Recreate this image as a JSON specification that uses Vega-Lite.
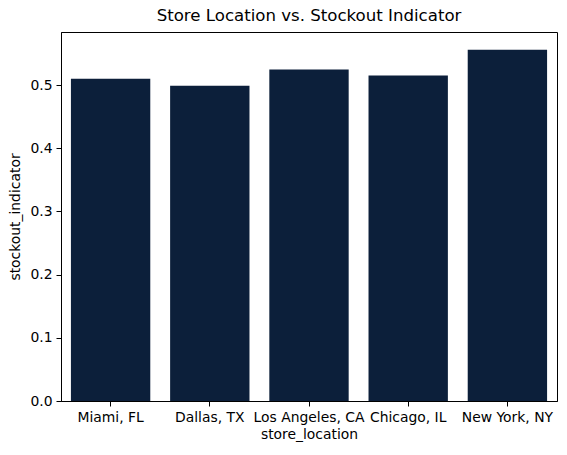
{
  "$schema": "https://vega.github.io/schema/vega-lite/v6.json",
  "autosize": {"type": "none"},
  "width": 496,
  "height": 369,
  "padding": {"left": 61, "top": 32, "right": 10, "bottom": 54},
  "background": "white",
  "title": {
    "text": "Store Location vs. Stockout Indicator",
    "font": "DejaVu Sans",
    "fontSize": 16.6,
    "fontWeight": "normal",
    "color": "black",
    "offset": 7
  },
  "config": {
    "view": {"stroke": "black", "strokeWidth": 1},
    "axis": {
      "labelFont": "DejaVu Sans",
      "titleFont": "DejaVu Sans",
      "labelFontSize": 13.9,
      "titleFontSize": 13.9,
      "titleFontWeight": "normal",
      "labelColor": "black",
      "titleColor": "black",
      "domainColor": "black",
      "tickColor": "black",
      "tickSize": 5,
      "grid": false
    }
  },
  "data": {
    "values": [
      {"store_location": "Miami, FL", "stockout_indicator": 0.510},
      {"store_location": "Dallas, TX", "stockout_indicator": 0.499},
      {"store_location": "Los Angeles, CA", "stockout_indicator": 0.5245},
      {"store_location": "Chicago, IL", "stockout_indicator": 0.515},
      {"store_location": "New York, NY", "stockout_indicator": 0.556}
    ]
  },
  "mark": {"type": "bar", "color": "#0c1f3a"},
  "encoding": {
    "x": {
      "field": "store_location",
      "type": "nominal",
      "sort": null,
      "scale": {"paddingInner": 0.2, "paddingOuter": 0.1},
      "axis": {"labelAngle": 0, "title": "store_location", "titlePadding": 4, "labelPadding": 4}
    },
    "y": {
      "field": "stockout_indicator",
      "type": "quantitative",
      "scale": {"domain": [0, 0.584], "nice": false},
      "axis": {"values": [0, 0.1, 0.2, 0.3, 0.4, 0.5], "format": ".1f", "title": "stockout_indicator", "titlePadding": 7, "labelPadding": 4}
    }
  }
}
